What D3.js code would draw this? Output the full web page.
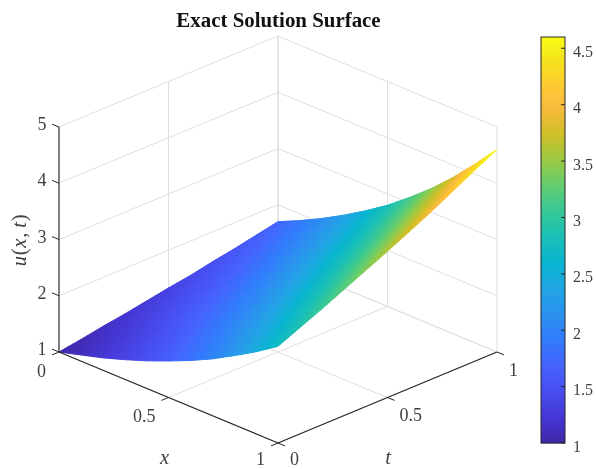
<!DOCTYPE html>
<html><head><meta charset="utf-8">
<script src="https://cdn.jsdelivr.net/npm/d3@7/dist/d3.min.js"></script>
<style>html,body{margin:0;padding:0;background:#fff}svg{display:block;filter:blur(0.4px)}text{font-family:"Liberation Serif","Times New Roman",serif}</style>
</head><body><svg id="c" width="596" height="469"></svg>
<script>
const xValues=[0,0.1,0.2,0.3,0.4,0.5,0.6,0.7,0.8,0.9,1];
const tValues=[0,0.1,0.2,0.3,0.4,0.5,0.6,0.7,0.8,0.9,1];
const uT00=[1.00,1.11,1.22,1.35,1.49,1.65,1.82,2.01,2.23,2.46,2.72];
const uT01=[1.06,1.17,1.30,1.43,1.58,1.75,1.93,2.14,2.36,2.61,2.89];
const uT02=[1.13,1.24,1.37,1.52,1.68,1.86,2.05,2.27,2.51,2.77,3.06];
const uT03=[1.19,1.32,1.46,1.61,1.78,1.97,2.17,2.40,2.65,2.93,3.24];
const uT04=[1.26,1.39,1.54,1.70,1.88,2.07,2.29,2.53,2.80,3.09,3.42];
const uT05=[1.33,1.46,1.62,1.79,1.98,2.18,2.41,2.67,2.95,3.26,3.60];
const uT06=[1.39,1.54,1.70,1.88,2.08,2.30,2.54,2.81,3.10,3.43,3.79];
const uT07=[1.47,1.62,1.79,1.98,2.19,2.42,2.67,2.95,3.26,3.61,3.98];
const uT08=[1.54,1.70,1.88,2.08,2.30,2.54,2.81,3.11,3.43,3.79,4.19];
const uT09=[1.62,1.79,1.98,2.19,2.42,2.67,2.95,3.26,3.61,3.99,4.40];
const uT10=[1.70,1.88,2.08,2.30,2.54,2.80,3.10,3.42,3.78,4.18,4.60];
const uRows=[uT00,uT01,uT02,uT03,uT04,uT05,uT06,uT07,uT08,uT09,uT10];
const xTicks=[0,0.5,1], tTicks=[0,0.5,1], uTicks=[1,2,3,4,5];
const barTicks=[1,1.5,2,2.5,3,3.5,4,4.5];
const uLo=1, uHi=4.6;
const parulaStops=[0,0.0635,0.127,0.19,0.254,0.317,0.381,0.444,0.508,0.571,0.635,0.698,0.762,0.825,0.857,0.889,0.937,1];
const parulaColors=["#3e26a8","#4537d5","#484df0","#4563fd","#327bfc","#2b91ef","#20a5e3","#08b5d0","#19bfb6","#37c897","#64cd6f","#9dc943","#d1bf27","#f8ba3d","#fec338","#fcce2e","#f5e01f","#f9fb15"];

const svg=d3.select("#c");
const color=d3.scaleLinear().domain(parulaStops.map(s=>uLo+s*(uHi-uLo))).range(parulaColors).clamp(true);
const xX=d3.scaleLinear([0,1],[0,219]), xY=d3.scaleLinear([0,1],[0,91]);
const tX=d3.scaleLinear([0,1],[59,278]), tY=d3.scaleLinear([0,1],[352,261]);
const zY=d3.scaleLinear([1,5],[0,-225]);
const P=(x,t,u)=>[xX(x)+tX(t), xY(x)+tY(t)+zY(u)];
const seg=(g,a,b,col,w)=>g.append("line").attr("x1",a[0]).attr("y1",a[1]).attr("x2",b[0]).attr("y2",b[1]).attr("stroke",col).attr("stroke-width",w);

const grid="#dedede";
const gg=svg.append("g");
uTicks.forEach(u=>{seg(gg,P(0,0,u),P(0,1,u),grid,1);seg(gg,P(0,1,u),P(1,1,u),grid,1);});
tTicks.forEach(t=>{seg(gg,P(0,t,1),P(0,t,5),grid,1);seg(gg,P(0,t,1),P(1,t,1),grid,1);});
xTicks.forEach(x=>{seg(gg,P(x,1,1),P(x,1,5),grid,1);seg(gg,P(x,0,1),P(x,1,1),grid,1);});

const sg=svg.append("g");
const N=8, sub=d3.range(N);
const nx=xValues.length-1, nt=tValues.length-1;
const bil=(i,j,a,b)=>{
  const l=d3.interpolateNumber(uRows[j][i],uRows[j+1][i])(b), r=d3.interpolateNumber(uRows[j][i+1],uRows[j+1][i+1])(b);
  return d3.interpolateNumber(l,r)(a);
};
d3.range(nt-1,-1,-1).forEach(j=>d3.range(nx).forEach(i=>{
  const X=d3.scaleLinear([0,1],[xValues[i],xValues[i+1]]),T=d3.scaleLinear([0,1],[tValues[j],tValues[j+1]]);
  [...sub].reverse().forEach(b=>sub.forEach(a=>{
    const a0=a/N,a1=(a+1)/N,b0=b/N,b1=(b+1)/N;
    const pts=[[a0,b0],[a1,b0],[a1,b1],[a0,b1]].map(([p,q])=>P(X(p),T(q),bil(i,j,p,q)));
    const c=color(bil(i,j,(a0+a1)/2,(b0+b1)/2));
    sg.append("polygon").attr("points",pts.map(d=>d.join(",")).join(" ")).attr("fill",c).attr("stroke",c).attr("stroke-width",1).attr("stroke-linejoin","round");
  }));
}));

const ax="#262626", lab="#404040", fs=18;
const ag=svg.append("g");
seg(ag,P(0,0,1),P(0,0,5),ax,1.1);
seg(ag,P(0,0,1),P(1,0,1),ax,1.1);
seg(ag,P(1,0,1),P(1,1,1),ax,1.1);
const tl=0.032;
uTicks.forEach(u=>seg(ag,P(0,0,u),P(-tl,0,u),ax,1));
xTicks.forEach(x=>seg(ag,P(x,0,1),P(x,-tl,1),ax,1));
tTicks.forEach(t=>seg(ag,P(1,t,1),P(1+tl,t,1),ax,1));

const text=(x,y,s,o={})=>svg.append("text").attr("x",x).attr("y",y).attr("text-anchor",o.a||"middle")
  .attr("font-size",o.fs||fs).attr("fill",o.c||lab).attr("font-style",o.i?"italic":"normal").attr("font-weight",o.b?"bold":"normal").text(s);

text(278.5,27,"Exact Solution Surface",{fs:20.9,b:true,c:"#111"});
uTicks.forEach(u=>{const p=P(0,0,u);text(p[0]-12.5,p[1]+3,String(u),{a:"end"});});
xTicks.forEach(x=>{const p=P(x,0,1);text(p[0]-13,Math.min(p[1]+24.5,464.8),String(x),{a:"end"});});
tTicks.forEach(t=>{const p=P(1,t,1);text(p[0]+12,Math.min(p[1]+23.5,464.8),String(t),{a:"start"});});
text(164.5,464,"x",{i:true,fs:20.5,c:lab});
text(388,464,"t",{i:true,fs:20.5,c:lab});
const yl=svg.append("text").attr("transform","translate(26,240) rotate(-90)").attr("text-anchor","middle").attr("font-size",20.5).attr("letter-spacing",0.8).attr("fill",lab);
[["u",1],["(",0],["x",1],[",",0],["t",1],[")",0]].forEach(([s,i])=>{
  const ts=yl.append("tspan").attr("font-style",i?"italic":"normal").text(s);
  if(s==="t") ts.attr("dx",4);
});

const barY=d3.scaleLinear([uLo,uHi],[443,37]);
const bx=541,bw=24;
const bg=svg.append("g");
d3.range(37,443).forEach(py=>{
  bg.append("rect").attr("x",bx).attr("y",py).attr("width",bw).attr("height",1.3).attr("fill",color(barY.invert(py+0.5)));
});
bg.append("rect").attr("x",bx).attr("y",37).attr("width",bw).attr("height",406).attr("fill","none").attr("stroke",ax).attr("stroke-width",1);
barTicks.forEach(v=>{
  const y=barY(v);
  seg(bg,[bx+bw-4,y],[bx+bw,y],ax,1);
  text(573,y+8.5,String(v),{a:"start",fs:16});
});
</script></body></html>
